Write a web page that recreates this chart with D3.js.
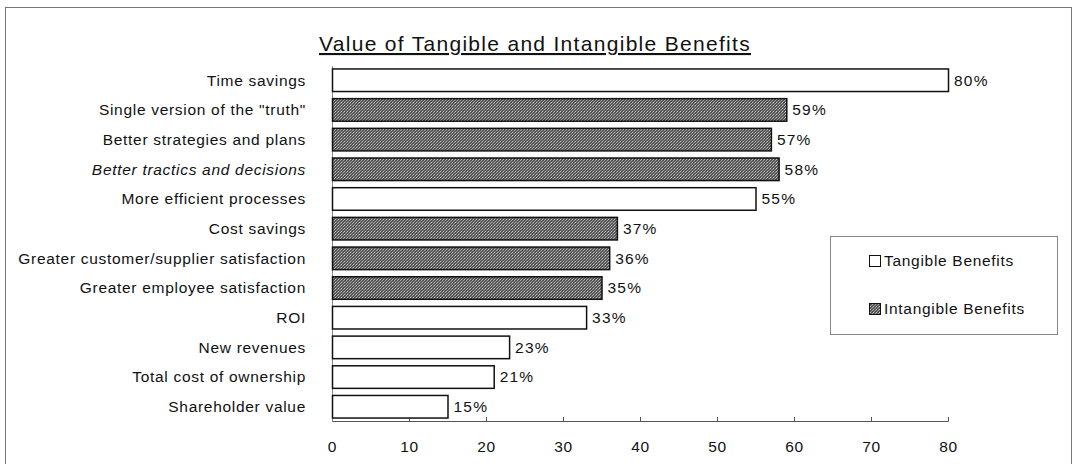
<!DOCTYPE html>
<html>
<head>
<meta charset="utf-8">
<script src="https://cdn.jsdelivr.net/npm/d3@7"></script>
<style>
  body { margin: 0; background: #fff; }
  svg { display: block; font-family: "Liberation Sans", Arial, sans-serif; }
</style>
</head>
<body>
<svg id="chart" width="1078" height="464"></svg>
<script>
const categories = ['Time savings', 'Single version of the "truth"', 'Better strategies and plans',
	'Better tractics and decisions', 'More efficient processes', 'Cost savings',
	'Greater customer/supplier satisfaction', 'Greater employee satisfaction', 'ROI',
	'New revenues', 'Total cost of ownership', 'Shareholder value']
const values = [80, 59, 57, 58, 55, 37, 36, 35, 33, 23, 21, 15]
const kinds = ['T', 'I', 'I', 'I', 'T', 'I', 'I', 'I', 'T', 'T', 'T', 'T']
const xTicks = [0, 10, 20, 30, 40, 50, 60, 70, 80]
const seriesNames = ['Tangible Benefits', 'Intangible Benefits']

const svg = d3.select('#chart')
const margins = { top: 66, left: 332, right: 130, bottom: 43 }
const width = 948 - margins.left
const height = 421 - margins.top
const fs = 15.5, ls = 0.7

// dithered fill for intangible bars
const pat = svg.append('defs').append('pattern')
	.attr('id', 'dots').attr('width', 3).attr('height', 3)
	.attr('patternUnits', 'userSpaceOnUse')
pat.append('rect').attr('width', 3).attr('height', 3).attr('fill', '#555')
pat.append('rect').attr('x', 0).attr('y', 0).attr('width', 1).attr('height', 1).attr('fill', '#c8c8c8')
pat.append('rect').attr('x', 2).attr('y', 1).attr('width', 1).attr('height', 1).attr('fill', '#a8a8a8')
pat.append('rect').attr('x', 1).attr('y', 2).attr('width', 1).attr('height', 1).attr('fill', '#909090')

// outer frame
svg.append('rect').attr('x', 5.5).attr('y', 7.5).attr('width', 1066).attr('height', 470)
	.attr('fill', 'none').attr('stroke', '#777').attr('stroke-width', 1)

svg.append('text').attr('x', 535).attr('y', 51)
	.attr('text-anchor', 'middle').attr('font-size', 21).attr('letter-spacing', 1.3)
	.attr('text-decoration', 'underline').attr('fill', '#111')
	.text('Value of Tangible and Intangible Benefits')

const x = d3.scaleLinear().domain([0, 80]).range([0, width])
const y = d3.scaleBand().domain(categories).range([0, height]).paddingInner(0.24).paddingOuter(0.1)

const g = svg.append('g').attr('transform', `translate(${margins.left}, ${margins.top})`)

const xAxis = g.append('g').attr('transform', `translate(0, ${height})`)
	.call(d3.axisBottom(x).tickValues(xTicks).tickSize(-4).tickPadding(20))
xAxis.select('.domain').attr('stroke', '#555')
xAxis.selectAll('line').attr('stroke', '#555')
xAxis.selectAll('text').attr('font-size', fs).attr('letter-spacing', ls).attr('fill', '#111')
	.attr('font-family', '"Liberation Sans", Arial, sans-serif')

g.append('line').attr('x1', 0.5).attr('x2', 0.5).attr('y1', 0).attr('y2', height)
	.attr('stroke', '#888')

g.selectAll('.cat').data(categories).enter().append('text')
	.attr('x', -26).attr('y', d => y(d) + y.bandwidth() / 2).attr('dy', '0.35em')
	.attr('text-anchor', 'end').attr('font-size', fs).attr('letter-spacing', ls).attr('fill', '#111')
	.attr('font-style', (d, i) => i === 3 ? 'italic' : 'normal')
	.text(d => d)

g.selectAll('.bar').data(values).enter().append('rect')
	.attr('x', 0.5).attr('y', (d, i) => y(categories[i]))
	.attr('width', d => x(d)).attr('height', y.bandwidth())
	.attr('fill', (d, i) => kinds[i] === 'T' ? '#fff' : 'url(#dots)')
	.attr('stroke', '#111').attr('stroke-width', 1.5)

g.selectAll('.val').data(values).enter().append('text')
	.attr('x', d => x(d) + 6).attr('y', (d, i) => y(categories[i]) + y.bandwidth() / 2)
	.attr('dy', '0.35em').attr('font-size', fs).attr('letter-spacing', 1.2).attr('fill', '#111')
	.text(d => d + '%')

// legend
const lg = svg.append('g')
lg.append('rect').attr('x', 830.5).attr('y', 236.5).attr('width', 227).attr('height', 98)
	.attr('fill', '#fff').attr('stroke', '#888')
seriesNames.forEach((name, i) => {
	const ly = 261 + i * 48
	lg.append('rect').attr('x', 869.5).attr('y', ly - 5.5).attr('width', 11).attr('height', 11)
		.attr('fill', i === 0 ? '#fff' : 'url(#dots)').attr('stroke', '#111')
	lg.append('text').attr('x', 884).attr('y', ly).attr('dy', '0.35em')
		.attr('font-size', fs).attr('letter-spacing', ls).attr('fill', '#111').text(name)
})
</script>
</body>
</html>
